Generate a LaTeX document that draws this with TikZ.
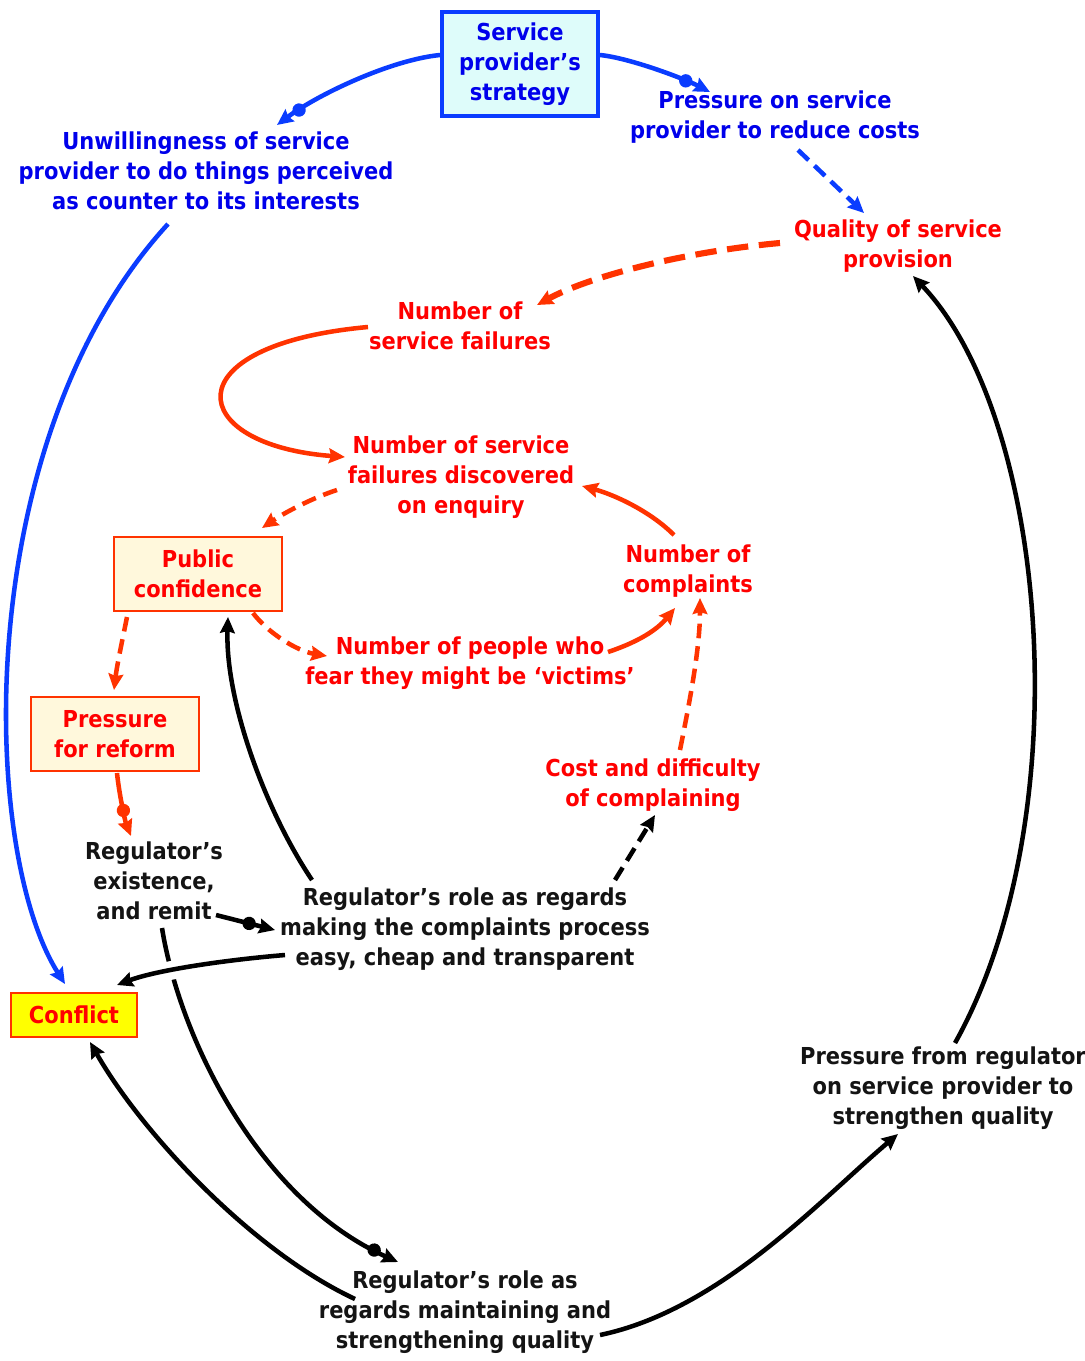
\documentclass[tikz,border=0pt]{standalone}
\usepackage{fontspec}
\setmainfont{DejaVu Sans}[FakeStretch=0.9]
\usetikzlibrary{arrows.meta,calc,decorations.markings,backgrounds}

\definecolor{txtblue}{RGB}{0,0,235}
\definecolor{lnblue}{RGB}{10,60,255}
\definecolor{txtred}{RGB}{255,0,0}
\definecolor{lnred}{RGB}{255,51,0}
\definecolor{txtblack}{RGB}{20,20,20}
\definecolor{cyanfill}{RGB}{222,252,250}
\definecolor{creamfill}{RGB}{255,248,220}
\definecolor{yellowfill}{RGB}{255,255,0}

\newcommand\lblfont{\bfseries\fontsize{17.5pt}{22.5pt}\selectfont}

\tikzset{
  lbl/.style={align=center, font=\lblfont, inner sep=0pt},
  bluetxt/.style={lbl, text=txtblue},
  redtxt/.style={lbl, text=txtred},
  blacktxt/.style={lbl, text=txtblack},
  servicebox/.style={lbl, text=txtblue, draw=lnblue, line width=3pt, fill=cyanfill,
    minimum width=117pt, minimum height=78pt},
  redbox/.style={lbl, text=txtred, draw=lnred, line width=1.5pt, fill=creamfill,
    minimum width=126pt, minimum height=55.5pt},
  conflictbox/.style={lbl, text=txtred, draw=lnred, line width=1.5pt, fill=yellowfill,
    minimum width=94.5pt, minimum height=33pt},
  conn/.style={line width=3.4pt, -{Stealth[length=12pt,width=11pt,inset=1.5pt]}},
  blueconn/.style={conn, color=lnblue},
  redconn/.style={conn, color=lnred},
  blackconn/.style={conn, color=black},
  dsh/.style={dash pattern=on 11pt off 6pt},
  bigdsh/.style={line width=4.6pt, dash pattern=on 16pt off 8pt},
  dotmark/.style={postaction={decorate, decoration={markings,
    mark=at position -20pt with {\fill[#1] (0,0) circle (5pt);}}}},
}

\begin{document}
\begin{tikzpicture}[x=0.75pt, y=-0.75pt]
\path[use as bounding box] (0,0) rectangle (1085,1361);

% variables and their labels
\node[servicebox] (ssv) at (520,64) {Service\\provider’s\\strategy};
\node[bluetxt] (unw) at (206,171) {Unwillingness of service\\provider to do things perceived\\as counter to its interests};
\node[bluetxt] (pcost) at (775,117) {Pressure on service\\provider to reduce costs};
\node[redtxt] (qual) at (898,246) {Quality of service\\provision};
\node[redtxt] (nsf) at (460,326) {Number of\\service failures};
\node[redtxt] (disc) at (461,477) {Number of service\\failures discovered\\on enquiry};
\node[redbox] (pc) at (198,574) {Public\\confidence};
\node[redtxt] (ncomp) at (688,571) {Number of\\complaints};
\node[redtxt] (fear) at (470,663) {Number of people who\\fear they might be ‘victims’};
\node[redbox] (pfr) at (115,734) {Pressure\\for reform};
\node[redtxt] (cost) at (653,785) {Cost and difficulty\\of complaining};
\node[blacktxt] (rex) at (154,881) {Regulator’s\\existence,\\and remit};
\node[blacktxt] (rcomp) at (465,929) {Regulator’s role as regards\\making the complaints process\\easy, cheap and transparent};
\node[conflictbox] (conf) at (74,1015) {Conflict};
\node[blacktxt] (preg) at (943,1088) {Pressure from regulator\\on service provider to\\strengthen quality};
\node[blacktxt] (rqual) at (465,1312) {Regulator’s role as\\regards maintaining and\\strengthening quality};

\begin{scope}[on background layer]
\fill[white] (0,0) rectangle (1085,1361);

% service provider's strategy
\draw[blueconn, dotmark=lnblue] ($(ssv.west)+(0,-9)$) .. controls +(-50,5) and +(40,-30) .. ($(unw.center)+(71,-46)$);
\draw[blueconn, dotmark=lnblue] ($(ssv.east)+(0,-9)$) .. controls +(30,3) and +(-25,-13) .. ($(pcost.center)+(-65,-25)$);
\draw[blueconn, dsh] ($(pcost.center)+(23,33)$) -- ($(qual.center)+(-34,-33)$);

% service failures loop
\draw[redconn, bigdsh] ($(qual.center)+(-118,-3)$) .. controls +(-90,8) and +(55,-30) .. ($(nsf.center)+(77,-21)$);
\draw[redconn] ($(nsf.center)+(-92,1)$) .. controls +(-198,18) and +(-160,-12) .. ($(disc.center)+(-116,-20)$);
\draw[redconn, dsh] ($(disc.center)+(-124,13)$) .. controls +(-25,8) and +(22,-15) .. ($(pc.north east)+(-21,-8)$);
\draw[redconn] ($(ncomp.center)+(-14,-36)$) .. controls +(-25,-25) and +(30,8) .. ($(disc.center)+(121,9)$);
\draw[redconn, dsh] ($(pc.south)+(55,1)$) .. controls +(15,20) and +(-30,-5) .. ($(fear.center)+(-143,-7)$);
\draw[redconn] ($(fear.center)+(138,-11)$) .. controls +(30,-10) and +(-18,22) .. ($(ncomp.center)+(-13,37)$);
\draw[redconn, dsh] ($(cost.center)+(27,-35)$) .. controls +(10,-50) and +(0,50) .. ($(ncomp.center)+(12,27)$);
\draw[redconn, dsh] ($(pc.south)+(-71,5)$) .. controls +(-5,25) and +(3,-25) .. ($(pfr.north)+(-1,-6)$);
\draw[redconn, dotmark=lnred] ($(pfr.south)+(2,1)$) .. controls +(2,20) and +(-6,-15) .. ($(rex.center)+(-23,-45)$);

% regulator
\draw[blackconn, dotmark=black] ($(rex.center)+(62,34)$) -- ($(rcomp.center)+(-190,1)$);
\draw[blackconn, dotmark=black] ($(rex.center)+(8,47)$) .. controls +(18,112) and +(-138,-62) .. ($(rqual.center)+(-67,-50)$);
\draw[blackconn] ($(rcomp.center)+(-153,-49)$) .. controls +(-47,-70) and +(-3,83) .. ($(pc.south)+(30,5)$);
\draw[blackconn, dsh] ($(rcomp.center)+(150,-49)$) -- ($(cost.center)+(2,30)$);
\draw[blackconn, preaction={draw=white, line width=14pt, -}] ($(rcomp.center)+(-180,26)$) .. controls +(-60,5) and +(40,-15) .. ($(conf.north east)+(-21,-7)$);

% conflict and quality
\draw[blueconn] ($(unw.center)+(-38,53)$) .. controls +(-198,216) and +(-85,-134) .. ($(conf.north)+(-9,-8)$);
\draw[blackconn] ($(rqual.center)+(-110,-13)$) .. controls +(-105,-49) and +(50,88) .. ($(conf.south)+(16,4)$);
\draw[blackconn] ($(rqual.center)+(135,23)$) .. controls +(120,-25) and +(-78,66) .. ($(preg.center)+(-45,46)$);
\draw[blackconn] ($(preg.center)+(12,-45)$) .. controls +(125,-223) and +(137,144) .. ($(qual.center)+(15,30)$);
\end{scope}
\end{tikzpicture}
\end{document}
